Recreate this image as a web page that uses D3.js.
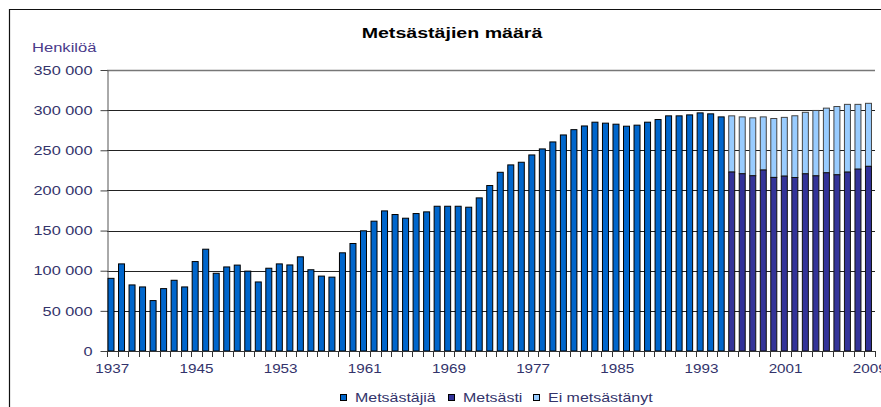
<!DOCTYPE html>
<html>
<head>
<meta charset="utf-8">
<script src="https://cdn.jsdelivr.net/npm/d3@7"></script>
<style>
  html, body { margin: 0; padding: 0; background: #fff; }
  svg { display: block; font-family: "Liberation Sans", Arial, sans-serif; }
</style>
</head>
<body>
<svg id="chart" width="881" height="407"></svg>
<script>
// ---- Data ----
const years = d3.range(1937, 2010);
// Total hunters (Metsästäjiä), 1937–1995
const metsastajiaYears = d3.range(1937, 1996);
const metsastajia = [
  90500, 108500, 82300, 79800, 62800, 77700, 88100, 79800, 111400, 126800,
  96800, 104700, 107000, 99500, 86000, 103100, 108500, 107200, 117300, 101200,
  93300, 92000, 122300, 133900, 149700, 161700, 174500, 170000, 165400, 171200,
  173300, 180300, 180300, 180300, 179100, 190700, 206100, 222600, 231800, 235100,
  244200, 251700, 260400, 269100, 275700, 280300, 285000, 283800, 282500, 280000,
  281300, 285000, 288300, 292900, 292900, 294100, 296600, 295400, 291600
];
// 1996–2009 split: hunted (Metsästi) and did not hunt (Ei metsästänyt)
const splitYears = d3.range(1996, 2010);
const metsasti = [
  222900, 220800, 218300, 225400, 216200, 217800, 216100, 220700, 218200, 222000,
  219500, 222800, 226500, 230000
];
const eiMetsastanyt = [
  70000, 70800, 72100, 66200, 73400, 73200, 76900, 76600, 81400, 80500,
  85000, 84400, 80700, 78500
];
const yTicks = [0, 50000, 100000, 150000, 200000, 250000, 300000, 350000];
const xTickYears = [1937, 1945, 1953, 1961, 1969, 1977, 1985, 1993, 2001, 2009];
const seriesNames = ["Metsästäjiä", "Metsästi", "Ei metsästänyt"];
const seriesColors = ["#0066CC", "#333399", "#99CCFF"];
const titleText = "Metsästäjien määrä";
const yAxisTitle = "Henkilöä";

// ---- Layout ----
const svg = d3.select("#chart");
const textColor = "#33336b";
const pLeft = 107, pRight = 875, pTop = 70, pBottom = 351;
const sx = 1.33; // horizontal glyph stretch seen in the reference

const x = d3.scaleBand().domain(years).range([pLeft, pRight]).padding(0);
const y = d3.scaleLinear().domain([0, 350000]).range([pBottom, pTop]);
const fmt = d3.formatLocale({ decimal: ",", thousands: " ", grouping: [3], currency: ["", ""] }).format(",");

svg.append("rect").attr("width", 881).attr("height", 407).attr("fill", "#fff");

// frame
svg.append("path").attr("d", "M9.5,407V9.5H881").attr("fill", "none").attr("stroke", "#111").attr("stroke-width", 1.2);

// title
svg.append("text")
  .attr("transform", "translate(452,38) scale(1.4,1)")
  .attr("text-anchor", "middle")
  .attr("font-size", 14).attr("font-weight", "bold").attr("fill", "#000")
  .text(titleText);

// y axis title
svg.append("text")
  .attr("transform", "translate(32,52) scale(1.38,1)")
  .attr("font-size", 12).attr("fill", "#4a3a8a")
  .text(yAxisTitle);

// gridlines
svg.append("g").selectAll("line").data(yTicks.filter(d => d > 0)).join("line")
  .attr("x1", pLeft).attr("x2", pRight)
  .attr("y1", d => Math.round(y(d)) + 0.5).attr("y2", d => Math.round(y(d)) + 0.5)
  .attr("stroke", d => d === 350000 ? "#777" : "#222")
  .attr("stroke-width", d => d === 350000 ? 1.5 : 1);

// y axis
const yAxis = svg.append("g").attr("transform", `translate(${pLeft + 0.5},0)`)
  .call(d3.axisLeft(y).tickValues(yTicks).tickFormat(fmt).tickSize(7).tickSizeOuter(0));
yAxis.select(".domain").attr("stroke", "#555");
yAxis.selectAll(".tick line").attr("stroke", "#444");
yAxis.selectAll(".tick text")
  .attr("x", null).attr("dy", "0.35em")
  .attr("transform", `translate(-15,0) scale(${sx + 0.03},1)`)
  .attr("font-size", 12).attr("fill", textColor).attr("font-family", "Liberation Sans, Arial, sans-serif");

// bars: total hunters
const barOff = 1, barW = x.bandwidth() * 0.57;
const barsG = svg.append("g");
barsG.selectAll("rect.tot").data(metsastajiaYears.map((yr, i) => ({ yr, v: metsastajia[i] }))).join("rect")
  .attr("class", "tot")
  .attr("x", d => x(d.yr) + barOff).attr("width", barW)
  .attr("y", d => y(d.v)).attr("height", d => y(0) - y(d.v))
  .attr("fill", seriesColors[0]).attr("stroke", "#000").attr("stroke-width", 1);

// stacked bars
const split = splitYears.map((yr, i) => ({ yr, a: metsasti[i], b: eiMetsastanyt[i] }));
barsG.selectAll("rect.ei").data(split).join("rect")
  .attr("class", "ei")
  .attr("x", d => x(d.yr) + barOff).attr("width", barW)
  .attr("y", d => y(d.a + d.b)).attr("height", d => y(d.a) - y(d.a + d.b))
  .attr("fill", seriesColors[2]).attr("stroke", "#444").attr("stroke-width", 1);
barsG.selectAll("rect.met").data(split).join("rect")
  .attr("class", "met")
  .attr("x", d => x(d.yr) + barOff).attr("width", barW)
  .attr("y", d => y(d.a)).attr("height", d => y(0) - y(d.a))
  .attr("fill", seriesColors[1]).attr("stroke", "#111").attr("stroke-width", 1);

// x axis line and boundary ticks
const xg = svg.append("g");
xg.append("line").attr("x1", pLeft).attr("x2", pRight)
  .attr("y1", pBottom + 0.5).attr("y2", pBottom + 0.5).attr("stroke", "#333");
const bounds = years.map(yr => x(yr)).concat([x(years[years.length - 1]) + x.bandwidth()]);
xg.selectAll("line.t").data(bounds).join("line").attr("class", "t")
  .attr("x1", d => Math.round(d) + 0.5).attr("x2", d => Math.round(d) + 0.5)
  .attr("y1", pBottom).attr("y2", pBottom + 6).attr("stroke", "#333");

// x labels through axis
const xAxis = svg.append("g").attr("transform", `translate(0,${pBottom})`)
  .call(d3.axisBottom(x).tickValues(xTickYears).tickSize(0).tickPadding(0));
xAxis.select(".domain").remove();
xAxis.selectAll(".tick text")
  .attr("y", 22).attr("dy", null)
  .attr("transform", `scale(1.27,1)`)
  .attr("font-size", 12).attr("fill", textColor).attr("font-family", "Liberation Sans, Arial, sans-serif");

// legend
const legX = [340, 448, 533];
const leg = svg.append("g");
seriesNames.forEach((name, i) => {
  leg.append("rect").attr("x", legX[i] + 0.5).attr("y", 394.5).attr("width", 6).attr("height", 6)
    .attr("fill", seriesColors[i]).attr("stroke", "#000").attr("stroke-width", 1);
  leg.append("text")
    .attr("transform", `translate(${legX[i] + 15},401.5) scale(${sx},1)`)
    .attr("font-size", 12).attr("fill", textColor)
    .text(name);
});
</script>
</body>
</html>
